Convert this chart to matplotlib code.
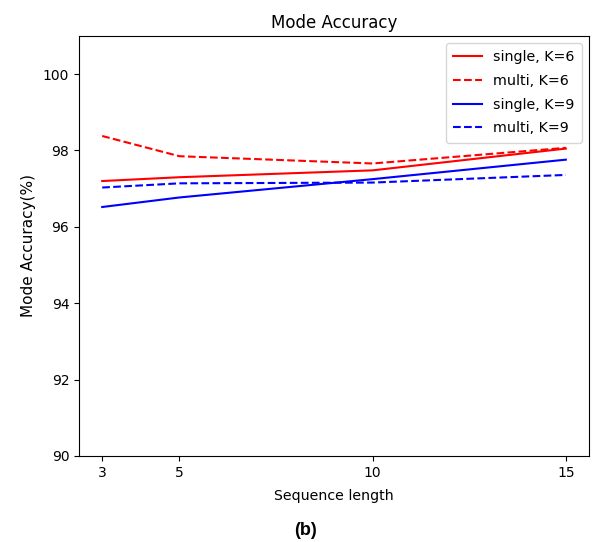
import matplotlib
matplotlib.use("Agg")
import matplotlib.pyplot as plt

# Sequence lengths and mode accuracy (%) per configuration
seq_len = [3, 5, 10, 15]
single_k6 = [97.20, 97.30, 97.48, 98.05]
multi_k6 = [98.38, 97.85, 97.66, 98.07]
single_k9 = [96.52, 96.77, 97.25, 97.76]
multi_k9 = [97.03, 97.14, 97.16, 97.36]

fig = plt.figure(figsize=(6.05, 5.42), dpi=100)
ax = fig.add_axes([0.1306, 0.1587, 0.843, 0.775])

ax.plot(seq_len, single_k6, color="red", linestyle="-", label="single, K=6")
ax.plot(seq_len, multi_k6, color="red", linestyle="--", label="multi, K=6")
ax.plot(seq_len, single_k9, color="blue", linestyle="-", label="single, K=9")
ax.plot(seq_len, multi_k9, color="blue", linestyle="--", label="multi, K=9")

ax.set_ylim(90, 101)
ax.set_yticks([90, 92, 94, 96, 98, 100])
ax.set_xticks(seq_len)
ax.tick_params(labelsize=10)
ax.set_title("Mode Accuracy", fontsize=12)
ax.set_xlabel("Sequence length", fontsize=10.2, labelpad=7)
ax.set_ylabel("Mode Accuracy(%)", fontsize=11, labelpad=5)
ax.legend(loc="upper right", fontsize=10.3, labelspacing=0.68, borderpad=0.5)

fig.text(0.505, 0.006, "(b)", ha="center", va="bottom", fontsize=13,
         fontweight="bold", family="Liberation Sans")

fig.savefig("out.png", dpi=100)
